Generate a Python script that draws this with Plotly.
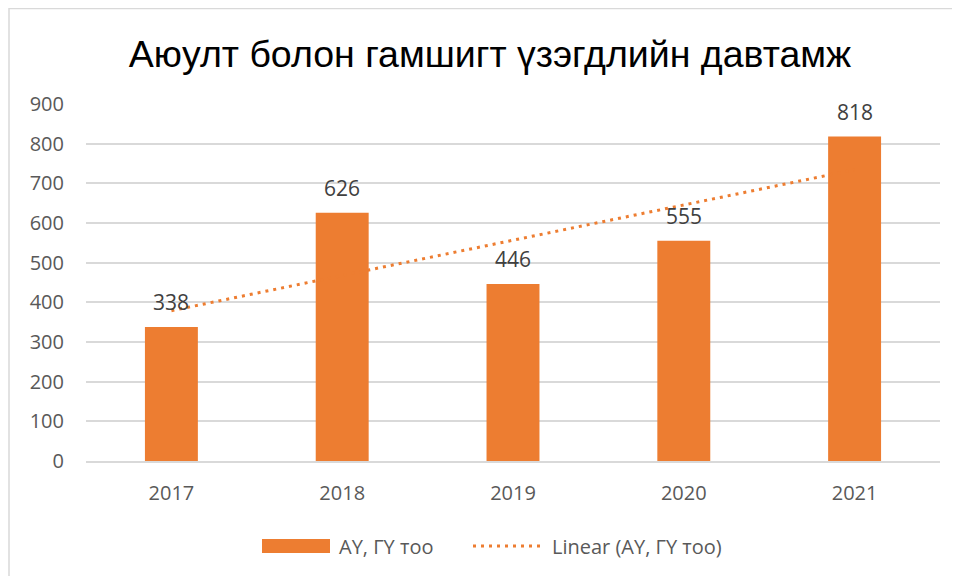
import numpy as np
import plotly.graph_objects as go

# chart data
years = ["2017", "2018", "2019", "2020", "2021"]
counts = [338, 626, 446, 555, 818]
series_name = "АҮ, ГҮ тоо"
trend_name = "Linear (АҮ, ГҮ тоо)"
title_text = "Аюулт болон гамшигт үзэгдлийн давтамж"

orange = "#ED7D31"
grid = "#D9D9D9"
body_font = "Open Sans, Liberation Sans, sans-serif"
dots = "3px,5px"

# linear trendline (least squares over category index, like Excel)
idx = np.arange(1, len(counts) + 1)
slope, intercept = np.polyfit(idx, counts, 1)
trend = slope * idx + intercept

# plot area in page pixels (the page body adds an 8px offset)
L, R, T, B = 78, 932, 96, 453
W, H = 960, 576


def fx(p):
    return (p - L) / (R - L)


def fy(p):
    return (B - p) / (B - T)


fig = go.Figure()

# trendline first so the bars sit on top of it
fig.add_trace(go.Scatter(
    x=years, y=trend,
    mode="lines",
    name=trend_name,
    line=dict(color=orange, width=3, dash=dots),
    hoverinfo="skip",
    showlegend=False,
))

fig.add_trace(go.Bar(
    x=years, y=counts,
    name=series_name,
    marker=dict(color=orange, line=dict(width=0)),
    showlegend=False,
))

# value labels above the bars (category axis -> use serial index)
annotations = [
    dict(x=i, y=v, xref="x", yref="y", text=str(v), showarrow=False,
         yanchor="middle", yshift=25,
         font=dict(size=21, color="#404040", family=body_font))
    for i, v in enumerate(counts)
]

# legend drawn by hand (wide swatches like the original)
annotations += [
    dict(x=fx(329), y=fy(538), xref="paper", yref="paper", text=series_name,
         showarrow=False, xanchor="left", yanchor="middle",
         font=dict(size=20, color="#595959", family=body_font)),
    dict(x=fx(542), y=fy(538), xref="paper", yref="paper", text=trend_name,
         showarrow=False, xanchor="left", yanchor="middle",
         font=dict(size=20, color="#595959", family=body_font)),
]

shapes = [
    # outer chart border (runs off the right and bottom edges)
    dict(type="rect", xref="paper", yref="paper",
         x0=fx(1), x1=fx(990), y0=fy(620), y1=fy(0.5),
         line=dict(color=grid, width=1.5), layer="below"),
    # legend swatch for bars
    dict(type="rect", xref="paper", yref="paper",
         x0=fx(254), x1=fx(322), y0=fy(545), y1=fy(531),
         fillcolor=orange, line=dict(width=0)),
    # legend sample for trendline
    dict(type="line", xref="paper", yref="paper",
         x0=fx(465), x1=fx(536), y0=fy(538), y1=fy(538),
         line=dict(color=orange, width=3, dash=dots)),
]

fig.update_layout(
    width=W, height=H,
    paper_bgcolor="white",
    plot_bgcolor="white",
    font=dict(family=body_font, color="#595959"),
    title=dict(
        text=title_text,
        x=482 / W, xanchor="center",
        y=1 - 46 / H, yanchor="middle",
        font=dict(size=37.5, color="#000000", family="Liberation Sans, Arial, sans-serif"),
    ),
    margin=dict(l=L, r=W - R, t=T, b=H - B),
    bargap=0.69,
    showlegend=False,
    annotations=annotations,
    shapes=shapes,
)

fig.update_yaxes(
    range=[0, 900],
    dtick=100,
    showgrid=True,
    gridcolor=grid,
    gridwidth=1.5,
    zeroline=False,
    showline=False,
    automargin=False,
    tickfont=dict(size=20, color="#595959"),
    ticklabelstandoff=21,
)

fig.update_xaxes(
    type="category",
    categoryorder="array",
    categoryarray=years,
    range=[-0.5, len(years) - 0.5],
    showgrid=False,
    showline=True,
    linecolor=grid,
    linewidth=1.5,
    automargin=False,
    tickfont=dict(size=20, color="#595959"),
    ticklabelstandoff=13,
)

fig.write_html("out.html")
